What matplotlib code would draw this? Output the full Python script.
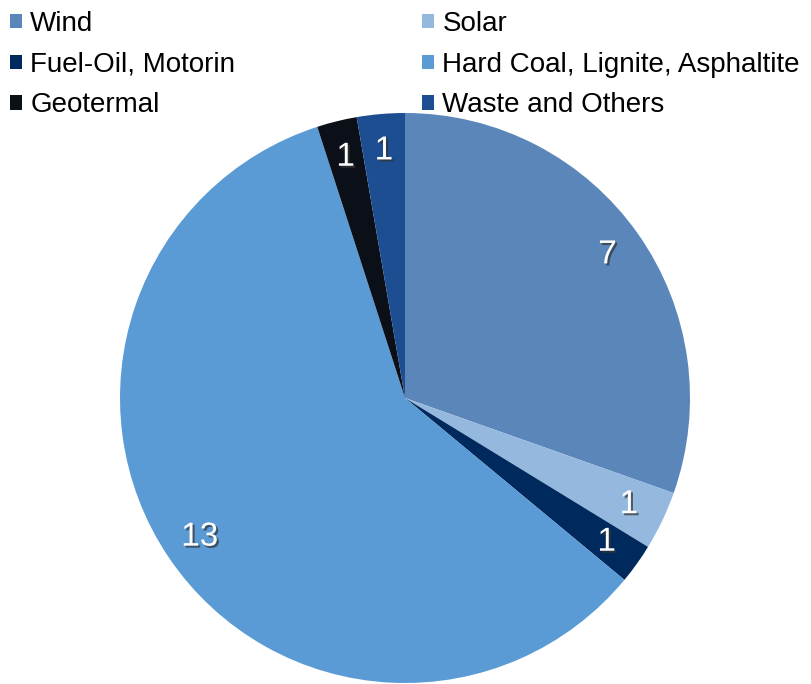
import numpy as np
import matplotlib
matplotlib.use("Agg")
import matplotlib.pyplot as plt
import matplotlib.patheffects as pe

plt.rcParams['font.family'] = ['Liberation Sans', 'DejaVu Sans']

# ── Data ─────────────────────────────────────────────────────────────────────
sources = ["Wind", "Solar", "Fuel-Oil, Motorin",
           "Hard Coal, Lignite, Asphaltite", "Geotermal", "Waste and Others"]
values = [6.84, 0.75, 0.51, 13.27, 0.51, 0.61]
colors = ["#5B86BA", "#95B8DE", "#002A5E", "#5B9BD5", "#0B0F17", "#1E4E92"]

total = sum(values)

# ── Figure ───────────────────────────────────────────────────────────────────
W, H = 811, 684
fig = plt.figure(figsize=(W / 100, H / 100), dpi=100)

cx, cy, r = 405, 398, 285
ax = fig.add_axes([(cx - r) / W, (H - cy - r) / H, 2 * r / W, 2 * r / H])

wedges, _, autotexts = ax.pie(
    values, colors=colors, startangle=90, counterclock=False,
    autopct=lambda p: f"{round(p * total / 100):.0f}",
    pctdistance=0.87, radius=1,
    textprops=dict(color="white", fontsize=24),
)
for t in autotexts:
    t.set_path_effects([pe.withSimplePatchShadow(offset=(1.5, -1.5),
                                                 shadow_rgbFace="#333333", alpha=0.7)])
ax.set_xlim(-1, 1)
ax.set_ylim(-1, 1)
ax.set_aspect("equal")
ax.axis("off")

# legend in two columns, row-major order
leg_kw = dict(loc="upper left", frameon=False, fontsize=20,
              handlelength=0.43, handleheight=0.43, handletextpad=0.3,
              labelspacing=0.53, borderpad=0, borderaxespad=0)
fig.legend([wedges[0], wedges[2], wedges[4]], [sources[0], sources[2], sources[4]],
           bbox_to_anchor=(10 / W, 1 - 11 / H), **leg_kw)
fig.legend([wedges[1], wedges[3], wedges[5]], [sources[1], sources[3], sources[5]],
           bbox_to_anchor=(422 / W, 1 - 11 / H), **leg_kw)

fig.savefig("out.png", dpi=100)
